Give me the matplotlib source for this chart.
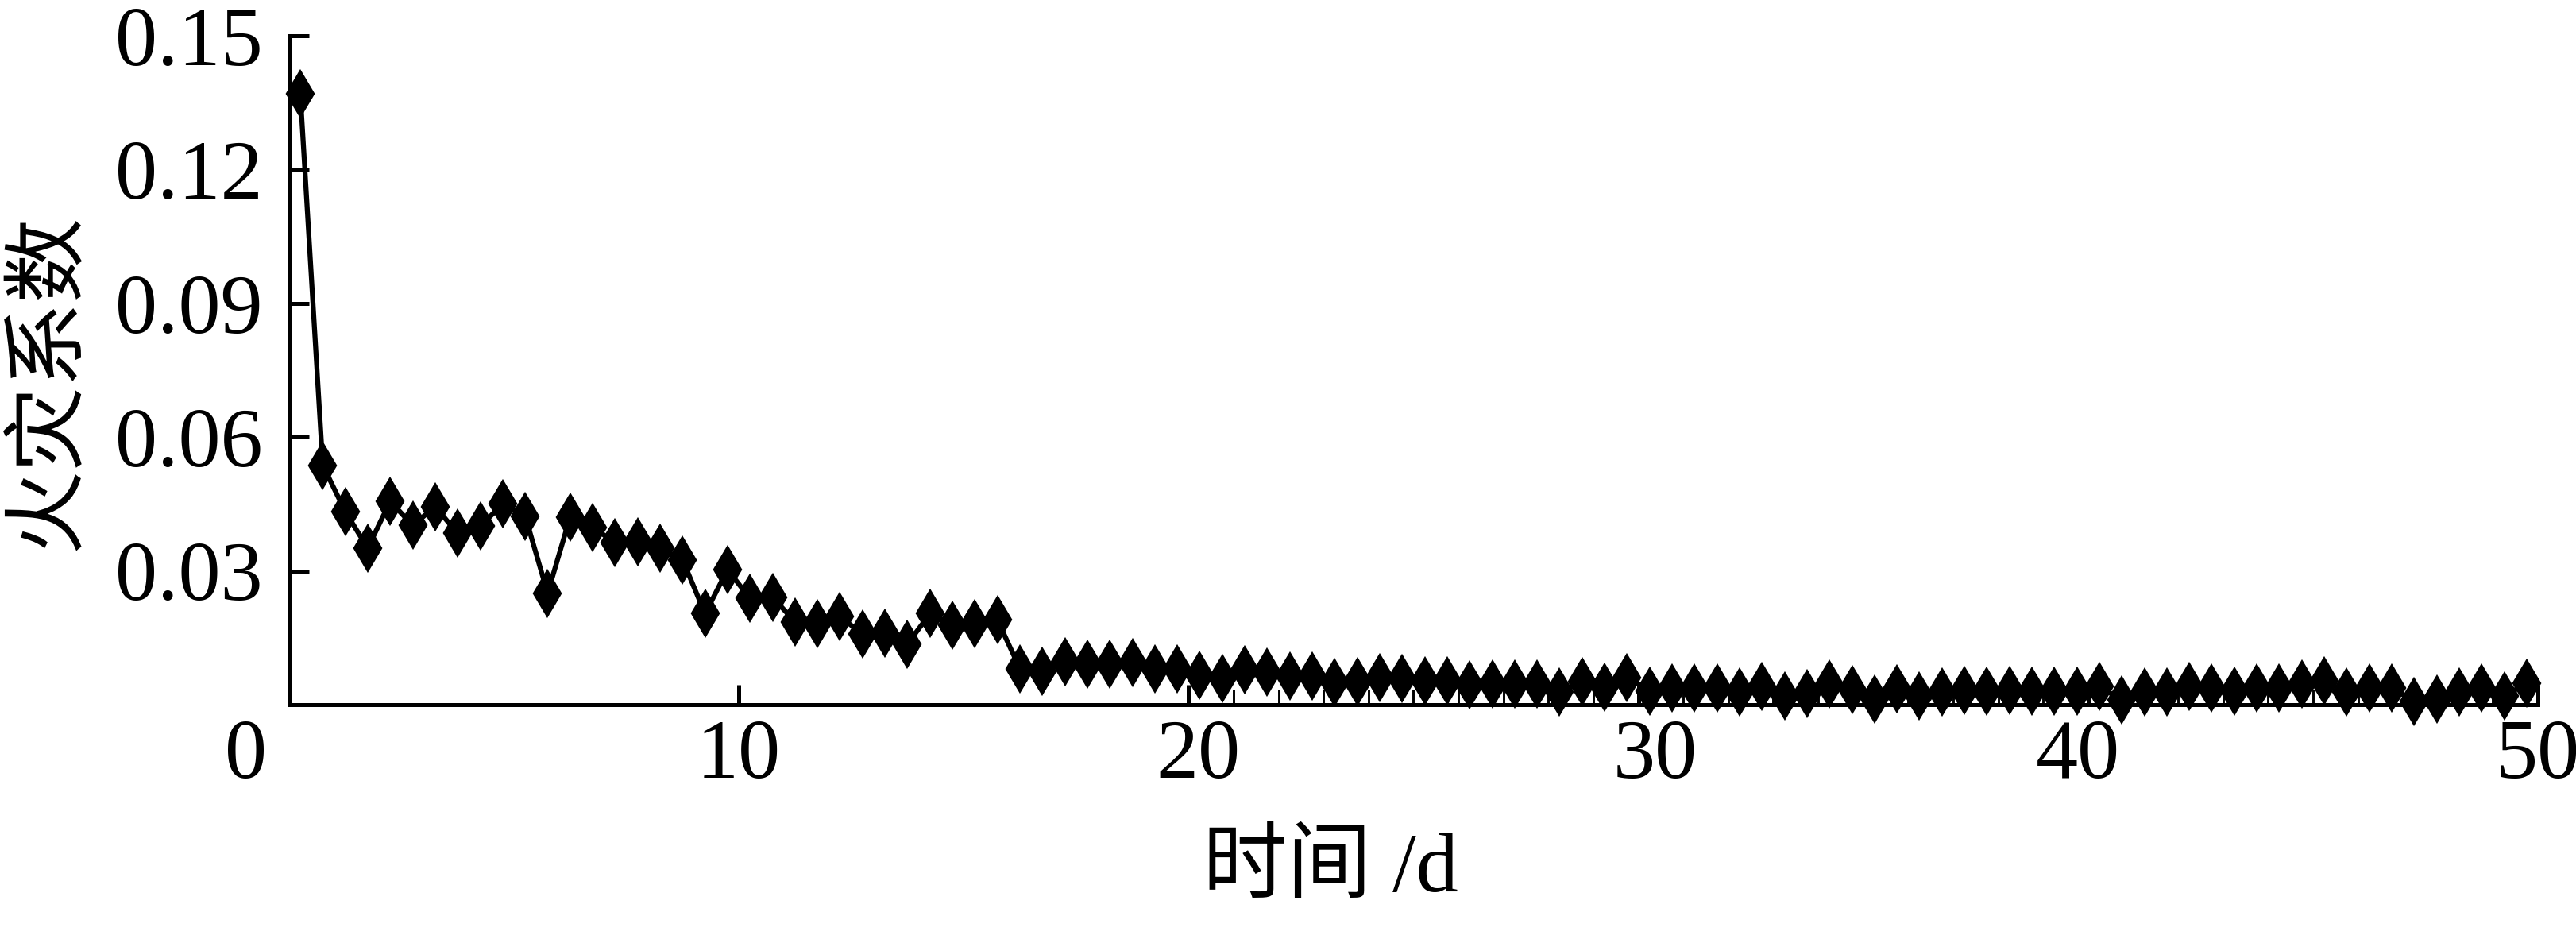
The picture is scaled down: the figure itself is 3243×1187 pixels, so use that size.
import numpy as np
import matplotlib
matplotlib.use("Agg")
import matplotlib.pyplot as plt
from matplotlib.transforms import ScaledTranslation

plt.rcParams['font.family'] = ['Liberation Serif', 'Noto Sans CJK SC']

#### Data ####
# sampling every 12 h, first sample at 0.25 d
days = 0.25 + 0.5 * np.arange(100)
fire_coef = [
    0.1370, 0.0537, 0.0433, 0.0351, 0.0456, 0.0402, 0.0444, 0.0384, 0.0400, 0.0450,
    0.0423, 0.0250, 0.0421, 0.0398, 0.0363, 0.0365, 0.0351, 0.0325, 0.0204, 0.0303,
    0.0238, 0.0241, 0.0186, 0.0181, 0.0197, 0.0159, 0.0160, 0.0136, 0.0204, 0.0179,
    0.0181, 0.0190, 0.0081, 0.0075, 0.0097, 0.0090, 0.0091, 0.0095, 0.0081, 0.0081,
    0.0066, 0.0058, 0.0079, 0.0073, 0.0064, 0.0065, 0.0050, 0.0052, 0.0061, 0.0058,
    0.0053, 0.0053, 0.0044, 0.0047, 0.0047, 0.0047, 0.0028, 0.0052, 0.0040, 0.0061,
    0.0031, 0.0037, 0.0037, 0.0038, 0.0029, 0.0041, 0.0019, 0.0025, 0.0047, 0.0034,
    0.0013, 0.0035, 0.0020, 0.0028, 0.0032, 0.0031, 0.0032, 0.0031, 0.0031, 0.0031,
    0.0041, 0.0010, 0.0028, 0.0028, 0.0041, 0.0037, 0.0031, 0.0038, 0.0038, 0.0047,
    0.0053, 0.0028, 0.0037, 0.0037, 0.0008, 0.0013, 0.0029, 0.0037, 0.0019, 0.0048,
]
x_ticks = [0, 10, 20, 30, 40, 50]
x_minor = [d for d in range(21, 50) if d % 10 != 0]
y_ticks = [0.03, 0.06, 0.09, 0.12, 0.15]

#### Plot ####
fig = plt.figure(figsize=(10.81, 3.957), dpi=300)
ax = fig.add_axes([0.1122, 0.2527, 0.9852 - 0.1122, 0.9621 - 0.2527])

ax.plot(days, fire_coef, color="black", lw=1.5, marker="d", ms=9,
        mfc="black", mec="black", clip_on=False, zorder=3)

ax.set_xlim(0, 50)
ax.set_ylim(0, 0.15)
ax.set_xticks(x_ticks)
ax.set_xticks(x_minor, minor=True)
ax.set_yticks(y_ticks)
ax.set_yticklabels([f"{v:.2f}" for v in y_ticks])

for s in ["top", "right"]:
    ax.spines[s].set_visible(False)
for s in ["left", "bottom"]:
    ax.spines[s].set_linewidth(1.2)

ax.tick_params(axis="both", which="major", direction="in", length=6, width=1.2,
               labelsize=25.5)
ax.tick_params(axis="y", which="major", pad=8)
ax.tick_params(axis="x", which="major", pad=4.5)
ax.tick_params(axis="x", which="minor", direction="in", length=4.5, width=0.7)

# tick labels in the original are not exactly centred on their ticks
shifts_pt = {0: -13, 2: 3, 3: 5, 4: -3}
for k, lbl in enumerate(ax.get_xticklabels()):
    if k in shifts_pt:
        lbl.set_transform(lbl.get_transform()
                          + ScaledTranslation(shifts_pt[k] / 72, 0, fig.dpi_scale_trans))

ax.set_ylabel("火灾系数", fontsize=25.5, family=["Noto Sans CJK SC"])
ax.yaxis.set_label_coords(-0.0883, 0.483)
ax.set_xlabel("时间 /d", fontsize=25.5)
ax.xaxis.set_label_coords(0.463, -0.192)

fig.savefig("out.png", dpi=300)
